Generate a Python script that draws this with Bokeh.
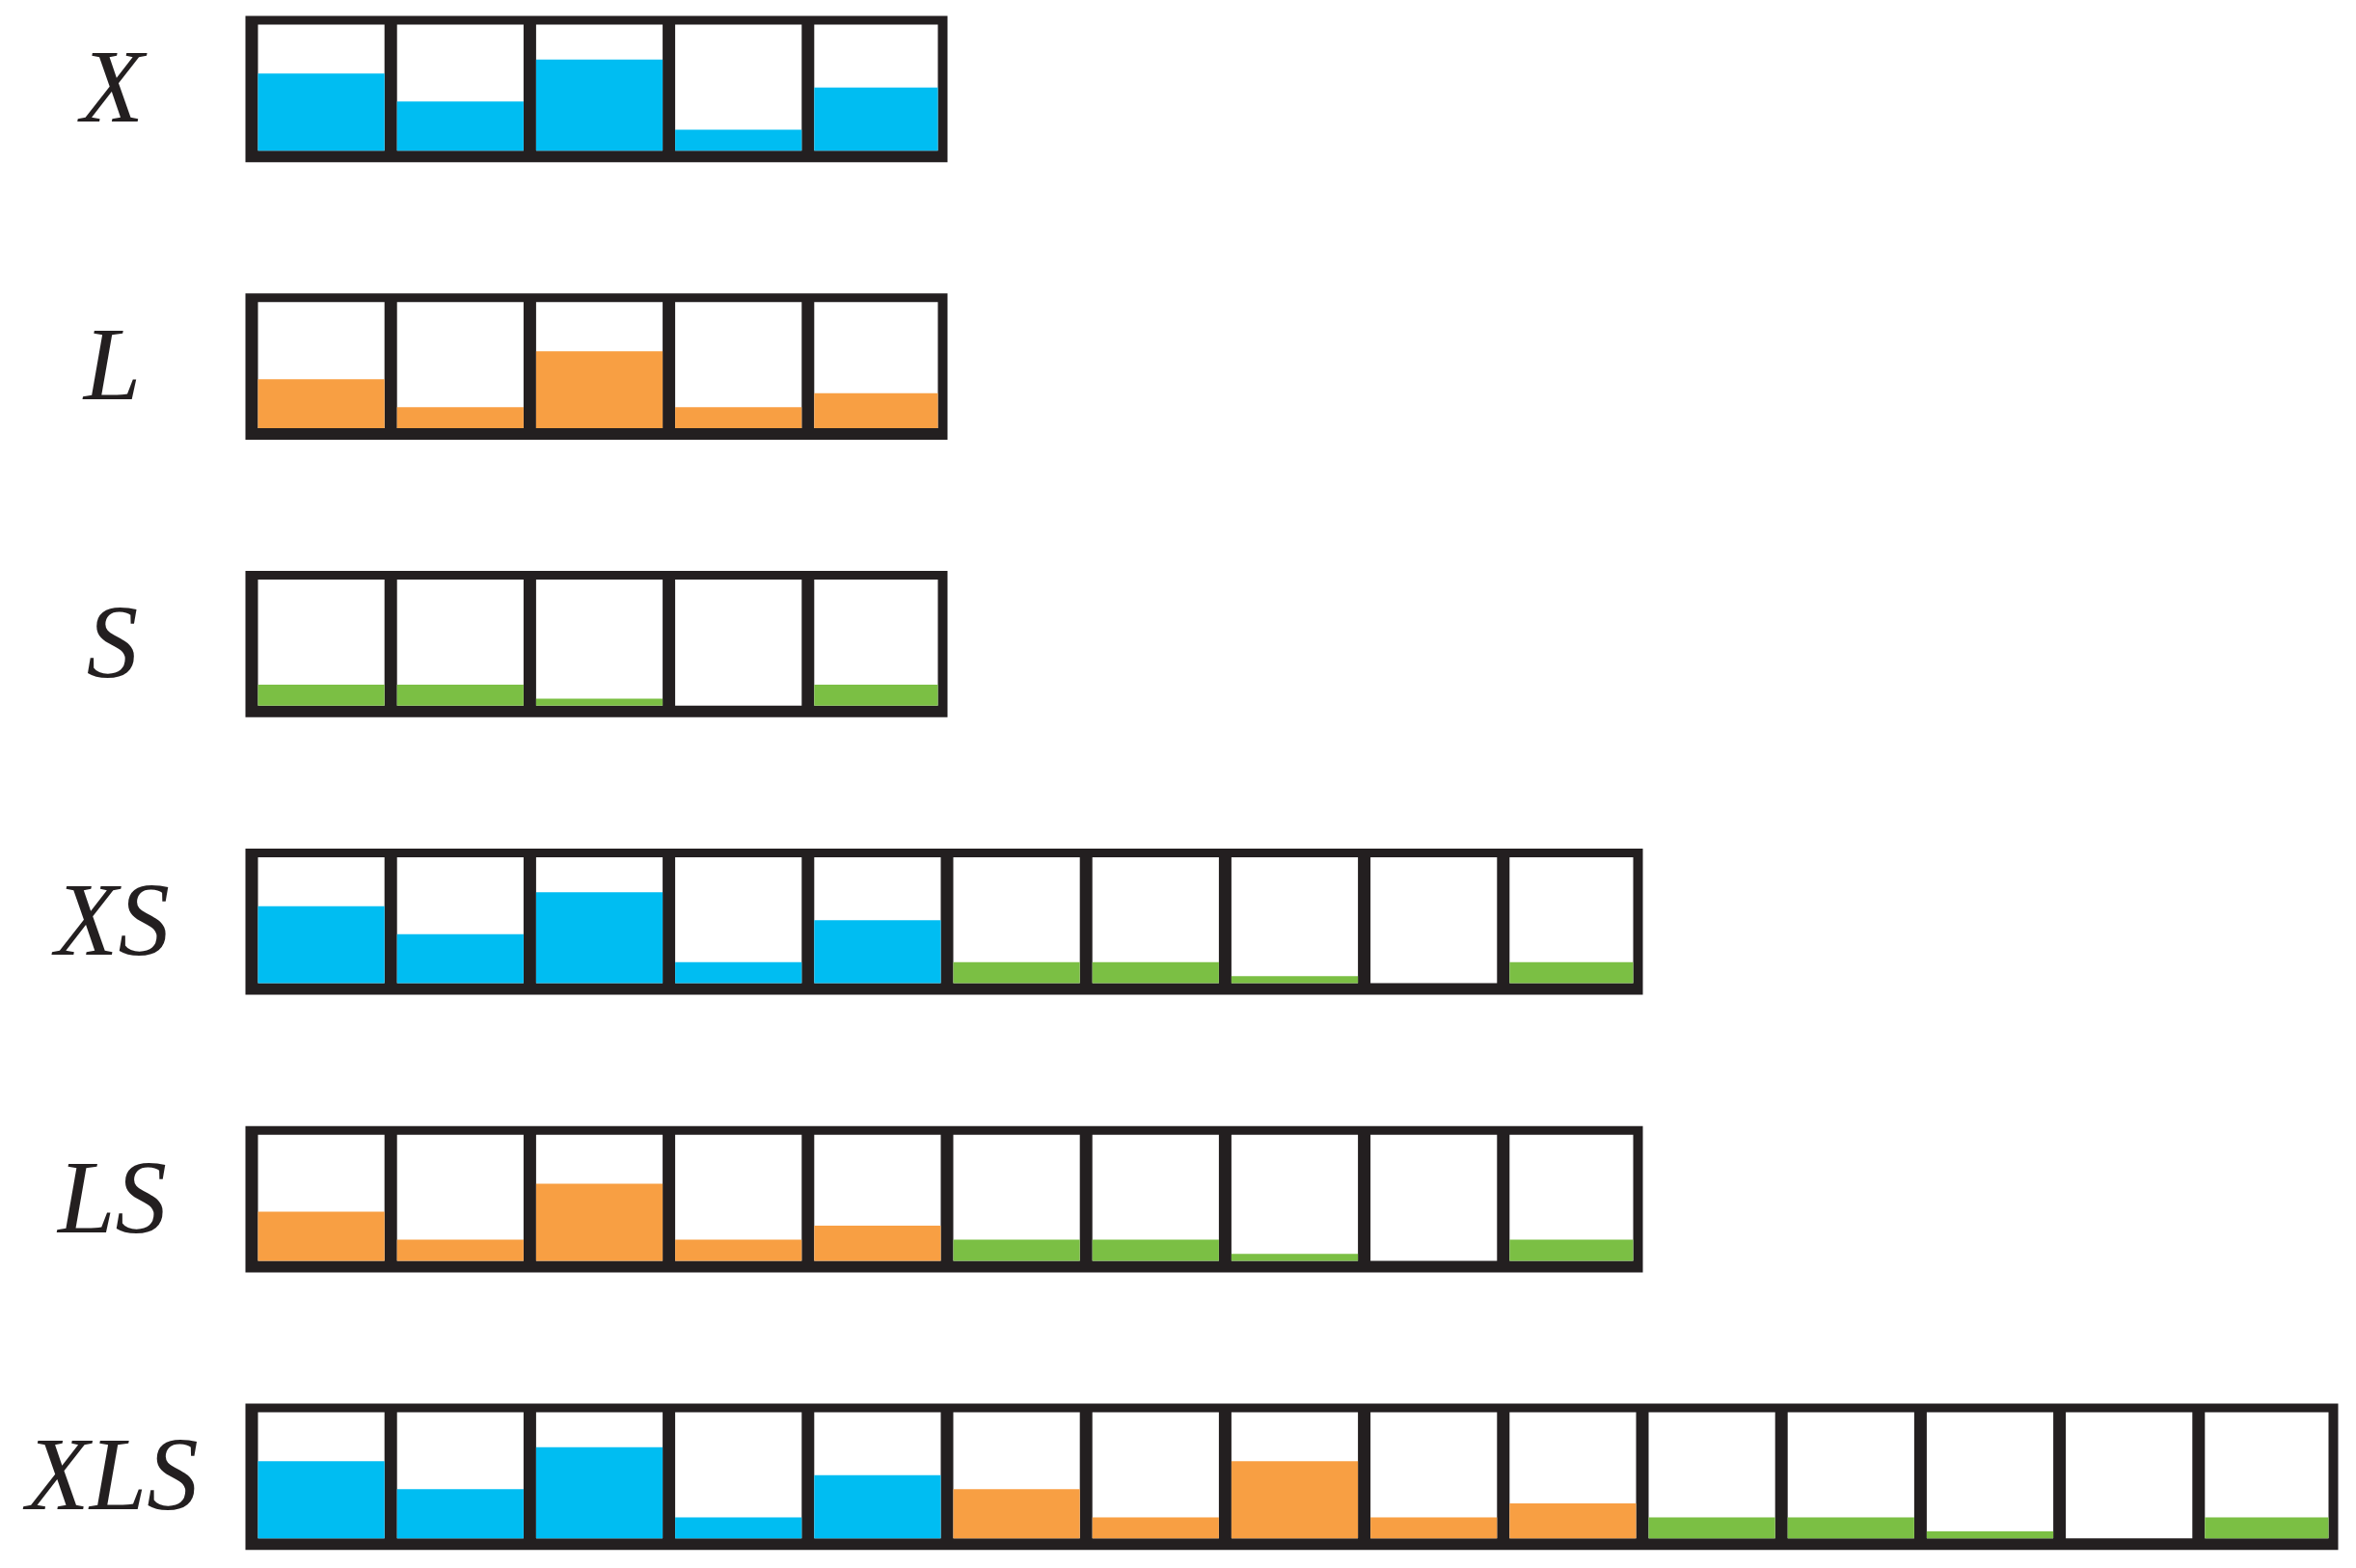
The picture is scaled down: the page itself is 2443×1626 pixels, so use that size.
from bokeh.plotting import figure
from bokeh.models import Range1d, ColumnDataSource
from bokeh.embed import file_html
from bokeh.resources import INLINE
from bokeh.core.properties import value

# ---- data (fill level of each cell, on a 0-9 scale) ----
X_values = [5.5, 3.5, 6.5, 1.5, 4.5]
L_values = [3.5, 1.5, 5.5, 1.5, 2.5]
S_values = [1.5, 1.5, 0.5, 0.0, 1.5]
row_labels = ["X", "L", "S", "XS", "LS", "XLS"]
row_parts = [["X"], ["L"], ["S"], ["X", "S"], ["L", "S"], ["X", "L", "S"]]
SCALE_MAX = 9.0

series = {"X": X_values, "L": L_values, "S": S_values}
colors = {"X": "#00BDF2", "L": "#F89F43", "S": "#7BBF44"}
DARK = "#231F20"

# ---- layout constants (pixels) ----
W, H = 2427, 1610
BOX_LEFT = 254.0   # outer left edge of every box
PITCH = 144.2      # cell pitch
VLINE = 13.0       # width of left border / dividers
RIGHT_IN = 3.0     # inner right of last cell, relative to last pitch mark
RIGHT_OUT = 7.0    # outer right edge, relative to last pitch mark
ROW0 = 16.0        # top of first row box
ROW_PITCH = 287.8
TOP_B = 9.0
INNER_H = 130.7
BOT_B = 12.0
UNIT = INNER_H / SCALE_MAX
LABEL_X = 116.0

p = figure(width=W, height=H, output_backend="svg", toolbar_location=None,
           x_range=Range1d(0, W), y_range=Range1d(H, 0),
           min_border=0, outline_line_color=None,
           x_axis_location=None, y_axis_location=None,
           background_fill_color="white", border_fill_color="white")
p.xgrid.visible = False
p.ygrid.visible = False

box = dict(left=[], right=[], top=[], bottom=[])
cell = dict(left=[], right=[], top=[], bottom=[])
fill = dict(left=[], right=[], top=[], bottom=[], color=[])
lab = dict(x=[], y=[], text=[])

for r, (name, parts) in enumerate(zip(row_labels, row_parts)):
    top = ROW0 + r * ROW_PITCH
    inner_top = top + TOP_B
    inner_bot = inner_top + INNER_H
    vals, cols = [], []
    for part in parts:
        vals += series[part]
        cols += [colors[part]] * len(series[part])
    n = len(vals)
    box["left"].append(BOX_LEFT)
    box["right"].append(BOX_LEFT + n * PITCH + RIGHT_OUT)
    box["top"].append(top)
    box["bottom"].append(inner_bot + BOT_B)
    for k, (v, c) in enumerate(zip(vals, cols)):
        l = BOX_LEFT + k * PITCH + VLINE
        rt = BOX_LEFT + (k + 1) * PITCH - (RIGHT_IN if k == n - 1 else 0.0)
        cell["left"].append(l); cell["right"].append(rt)
        cell["top"].append(inner_top); cell["bottom"].append(inner_bot)
        if v > 0:
            fill["left"].append(l); fill["right"].append(rt)
            fill["top"].append(inner_bot - v * UNIT); fill["bottom"].append(inner_bot)
            fill["color"].append(c)
    lab["x"].append(LABEL_X)
    lab["y"].append((top + inner_bot + BOT_B) / 2 - 2)
    lab["text"].append(name)

p.quad(source=ColumnDataSource(box), left="left", right="right", top="top", bottom="bottom",
       fill_color=DARK, line_color=None)
p.quad(source=ColumnDataSource(cell), left="left", right="right", top="top", bottom="bottom",
       fill_color="white", line_color=None)
p.quad(source=ColumnDataSource(fill), left="left", right="right", top="top", bottom="bottom",
       fill_color="color", line_color=None)
p.text(source=ColumnDataSource(lab), x="x", y="y", text="text",
       text_font=value("Liberation Serif"), text_font_style="italic",
       text_font_size="107px", text_align="center", text_baseline="alphabetic",
       text_color=DARK)

open("out.html", "w").write(file_html(p, INLINE))
